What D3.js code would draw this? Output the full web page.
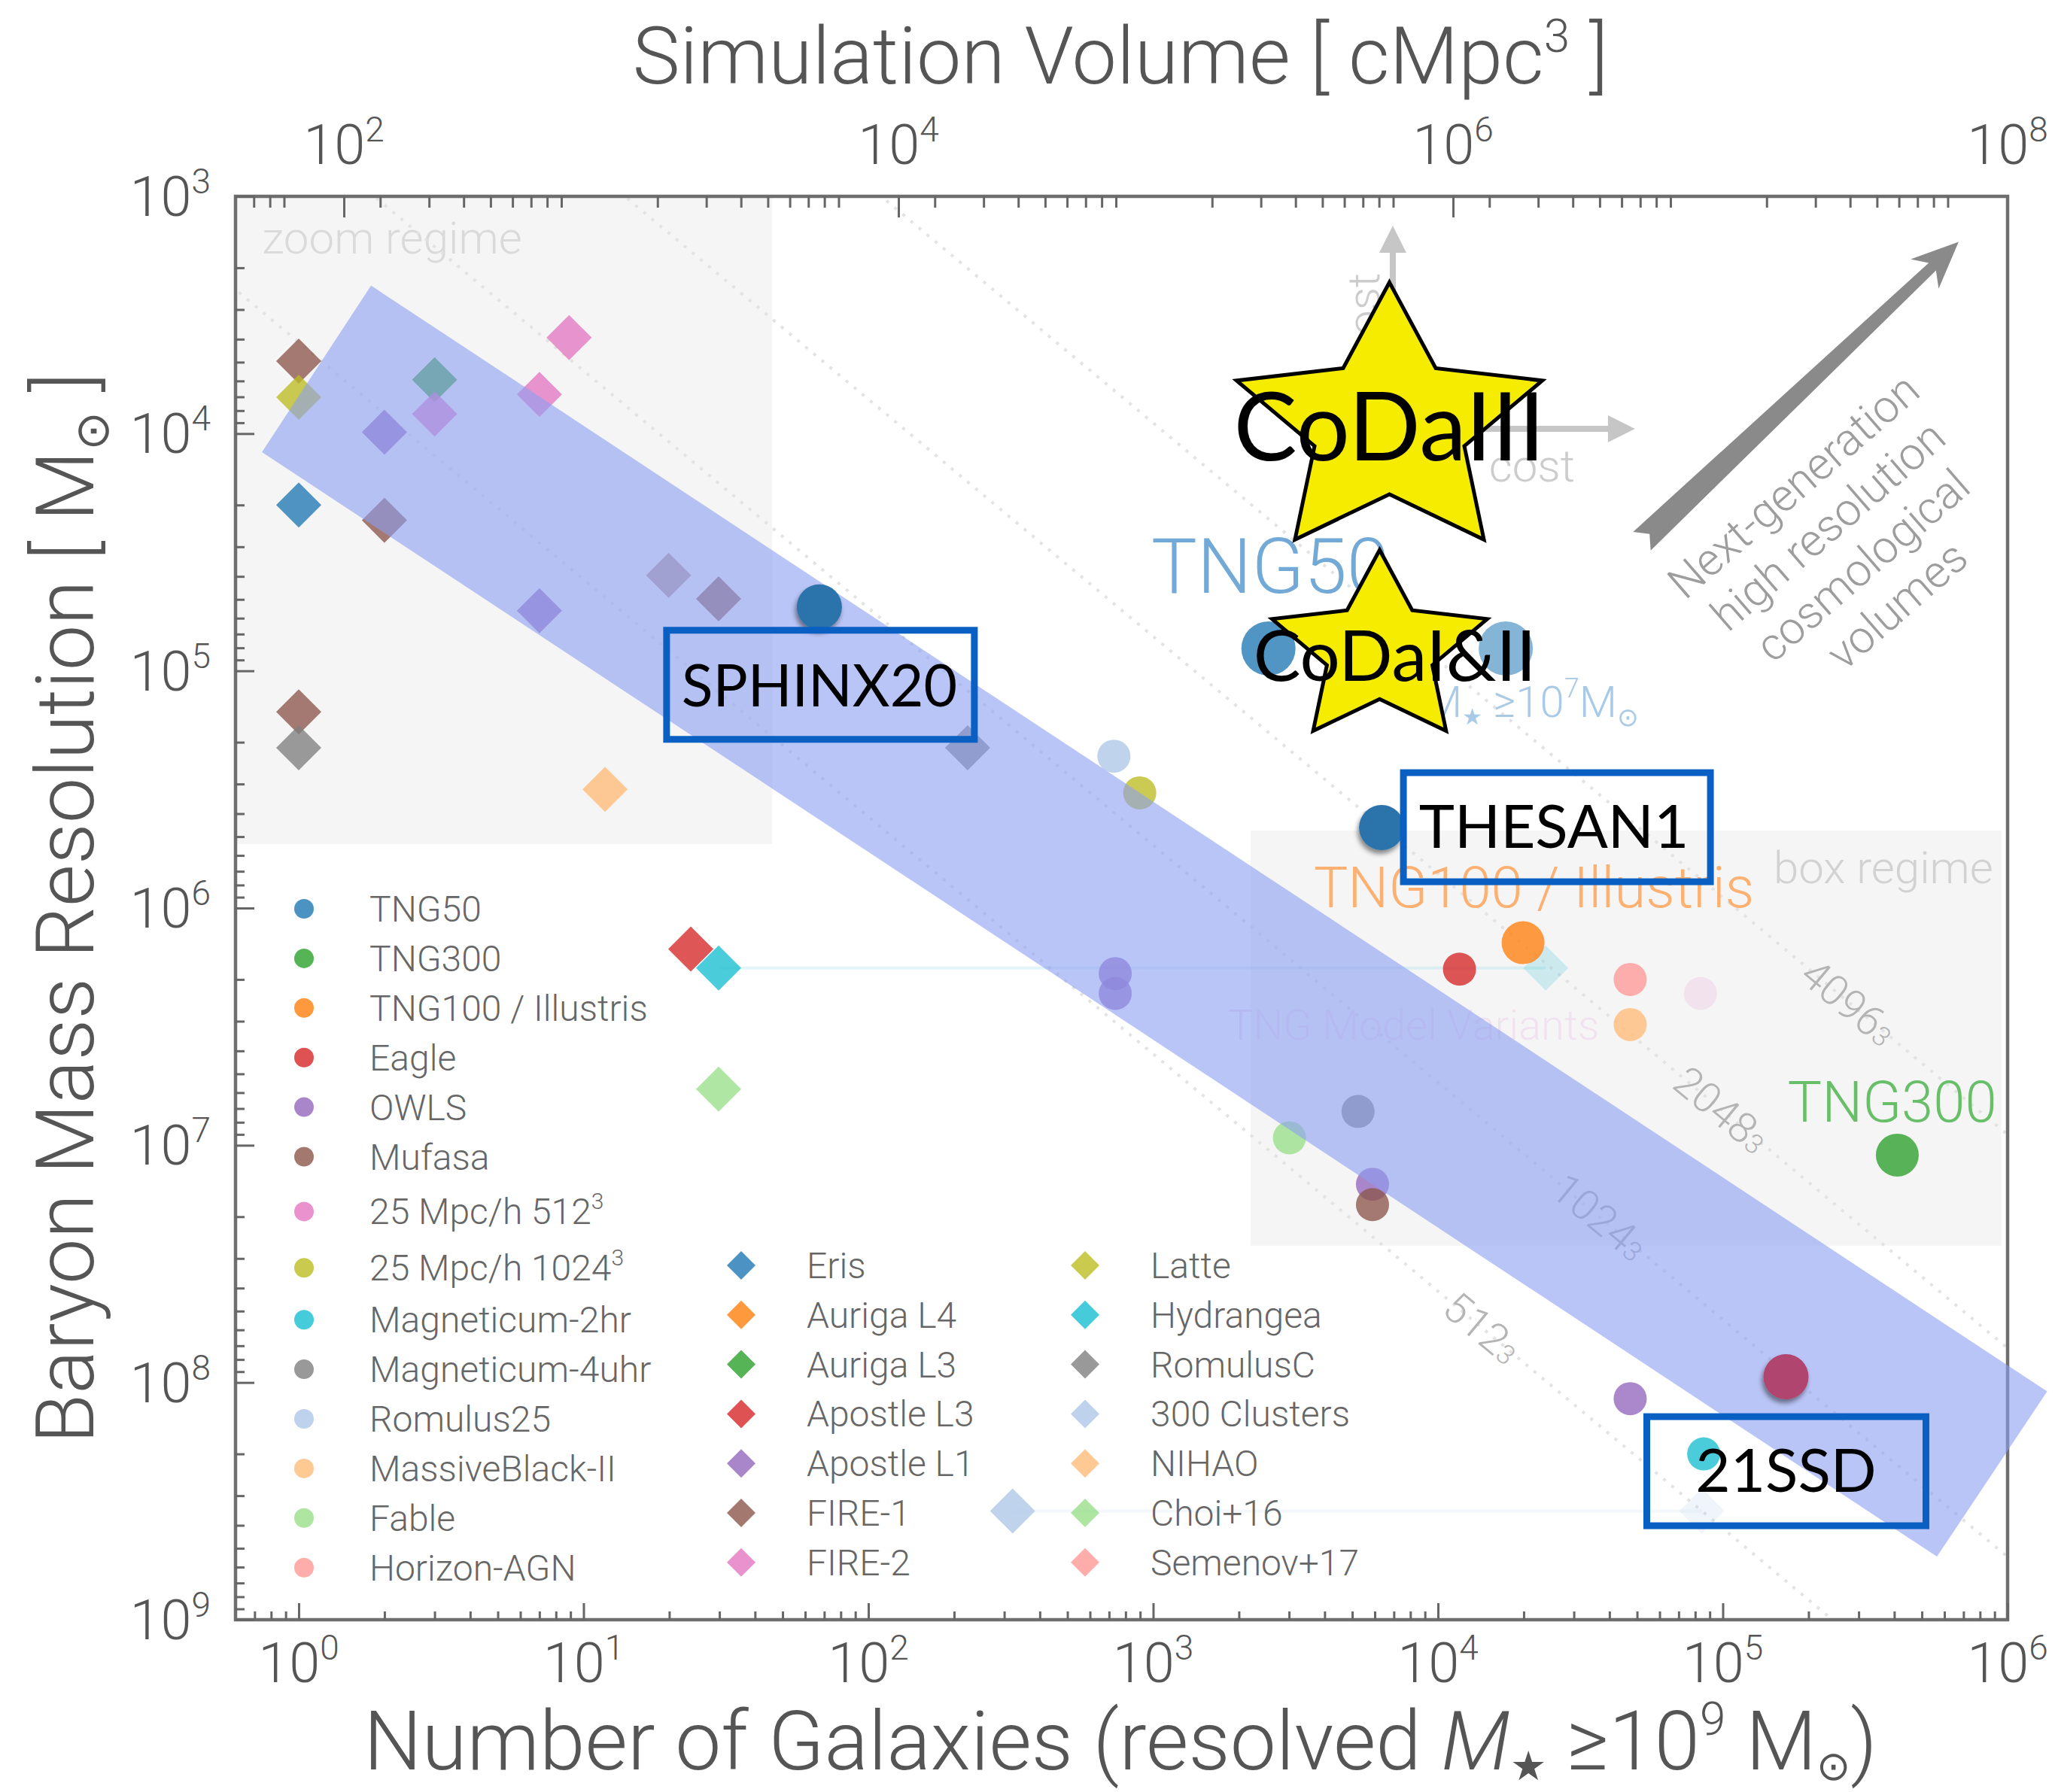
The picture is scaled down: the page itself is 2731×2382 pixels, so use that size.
<!DOCTYPE html>
<html>
<head>
<meta charset="utf-8">
<title>Simulation volume vs resolution</title>
<style>
  body { margin: 0; background: #fff; }
  svg { display: block; }
  text { font-family: "Roboto Light", Roboto, "DejaVu Sans", sans-serif; font-weight: 300; }
  .tag { font-family: Lato, "DejaVu Sans", sans-serif; font-weight: 400; fill: #000; }
</style>
<script src="https://cdn.jsdelivr.net/npm/d3@7"></script>
</head>
<body>
<script>

// legend series (circles = box simulations, diamonds = zooms)
var circleSeries = ["TNG50", "TNG300", "TNG100 / Illustris", "Eagle", "OWLS", "Mufasa", "25 Mpc/h 512³",
    "25 Mpc/h 1024³", "Magneticum-2hr", "Magneticum-4uhr", "Romulus25", "MassiveBlack-II", "Fable", "Horizon-AGN"];
var circleColors = ["#1f77b4", "#2ca02c", "#ff7f0e", "#d62728", "#9467bd", "#8c564b", "#e377c2",
    "#bcbd22", "#17becf", "#7f7f7f", "#aec7e8", "#ffbb78", "#98df8a", "#ff9896"];
var diamondSeries = ["Eris", "Auriga L4", "Auriga L3", "Apostle L3", "Apostle L1", "FIRE-1", "FIRE-2",
    "Latte", "Hydrangea", "RomulusC", "300 Clusters", "NIHAO", "Choi+16", "Semenov+17"];
var diamondColors = ["#1f77b4", "#ff7f0e", "#2ca02c", "#d62728", "#9467bd", "#8c564b", "#e377c2",
    "#bcbd22", "#17becf", "#7f7f7f", "#aec7e8", "#ffbb78", "#98df8a", "#ff9896"];

// [simulation, number of galaxies, baryon mass resolution]
var circlePoints = [
    ["TNG50", 2540, 8.05e4],
    ["TNG100 / Illustris", 19900, 1.40e6],
    ["Eagle", 11900, 1.81e6],
    ["Horizon-AGN", 47300, 2.0e6],
    ["MassiveBlack-II", 47300, 3.1e6],
    ["OWLS", 736, 1.89e6],
    ["OWLS", 736, 2.29e6],
    ["Magneticum-4uhr", 5240, 7.2e6],
    ["Fable", 3010, 9.3e6],
    ["OWLS", 5890, 1.46e7],
    ["Mufasa", 5890, 1.78e7],
    ["TNG300", 410000, 1.10e7],
    ["OWLS", 47300, 1.17e8],
    ["Magneticum-2hr", 85700, 2.0e8],
    ["Romulus25", 728, 2.29e5],
    ["25 Mpc/h 1024³", 897, 3.27e5]
];
var diamondPoints = [
    ["FIRE-1", 1, 4.95e3],
    ["Latte", 1, 7.03e3],
    ["Auriga L3", 3, 5.93e3],
    ["FIRE-2", 8.9, 3.94e3],
    ["FIRE-2", 7, 6.84e3],
    ["FIRE-2", 3, 8.26e3],
    ["Apostle L1", 2, 9.86e3],
    ["Eris", 1, 2.0e4],
    ["FIRE-1", 2, 2.32e4],
    ["Apostle L1", 7, 5.58e4],
    ["FIRE-1", 29.8, 4.97e4],
    ["FIRE-1", 1, 1.49e5],
    ["RomulusC", 1, 2.11e5],
    ["NIHAO", 11.9, 3.16e5],
    ["RomulusC", 223, 2.11e5],
    ["Apostle L3", 23.8, 1.49e6],
    ["Hydrangea", 29.8, 1.79e6],
    ["Choi+16", 29.8, 5.8e6],
    ["300 Clusters", 321, 3.48e8]
];
var secondaryCircles = [["TNG50", 17300, 8.05e4]];
var secondaryDiamonds = [["FIRE-1", 19.9, 3.96e4]];
var faintCircles = [["25 Mpc/h 512³", 83500, 2.29e6]];
var faintDiamonds = [["Hydrangea", 23900, 1.79e6], ["300 Clusters", 84400, 3.48e8]];
var faintLinks = [["Hydrangea", 29.8, 23900, 1.79e6], ["300 Clusters", 321, 84400, 3.48e8]];

// highlighted simulations
var newSims = [["SPHINX20", 67.3, 5.38e4], ["THESAN1", 6340, 4.58e5], ["21SSD", 166700, 9.46e7]];
var codaSims = [["CoDaIII", 6755, 9160], ["CoDaI&II", 6240, 8.17e4]];

// lines of constant particle number: log M - log N
var gridLabels = ["512", "1024", "2048", "4096"];
var gridOffsets = [3.615, 2.735, 1.855, 0.955];
var gridLabelN = [14300, 37000, 99000, 277000];

// regimes [N0, N1, M0, M1]
var zoomRegime = [0.6, 46, 1e3, 5.37e5];
var boxRegime = [2200, 9.5e5, 4.72e5, 2.65e7];

// band corners [N, M]
var bandCorners = [[0.743, 11970], [1.795, 2377], [1.377e6, 1.091e8], [5.649e5, 5.42e8]];

// tick labels
var bottomTicks = [1, 10, 100, 1e3, 1e4, 1e5, 1e6];
var leftTicks = [1e3, 1e4, 1e5, 1e6, 1e7, 1e8, 1e9];
var topTicks = [1e2, 1e4, 1e6, 1e8];

var W = 2731, H = 2382;
var L = 313, R = 2668, T = 261, B = 2153;

var x = d3.scaleLog().domain([0.6, 1e6]).range([L, R]);
var y = d3.scaleLog().domain([1e3, 1e9]).range([T, B]);
var xTop = d3.scaleLog().domain([Math.pow(10, 8 - (R - L) / 368.5), 1e8]).range([L, R]);

var colorOf = {};
circleSeries.forEach(function (s, i) { colorOf["c" + s] = circleColors[i]; });
diamondSeries.forEach(function (s, i) { colorOf["d" + s] = diamondColors[i]; });

var svg = d3.select("body").append("svg").attr("width", W).attr("height", H);
var defs = svg.append("defs");
defs.append("clipPath").attr("id", "plot").append("rect")
    .attr("x", L).attr("y", T).attr("width", R - L).attr("height", B - T);
defs.append("filter").attr("id", "shadow").attr("x", "-50%").attr("y", "-50%")
    .attr("width", "200%").attr("height", "200%")
    .append("feDropShadow").attr("dx", -2).attr("dy", 5).attr("stdDeviation", 3)
    .attr("flood-color", "#000").attr("flood-opacity", 0.45);

function diamond(h) { return "M0," + (-h) + "L" + h + ",0L0," + h + "L" + (-h) + ",0Z"; }

function addSup(sel, base, sup, supSize, dy) {
    sel.append("tspan").text(base);
    sel.append("tspan").attr("font-size", supSize).attr("dy", dy).text(sup);
}

// regimes
[zoomRegime, boxRegime].forEach(function (r) {
    svg.append("rect")
        .attr("x", x(r[0])).attr("y", y(r[2]))
        .attr("width", x(r[1]) - x(r[0])).attr("height", y(r[3]) - y(r[2]))
        .attr("fill", "#f5f5f5");
});
svg.append("text").attr("x", x(0.743)).attr("y", y(1742)).attr("font-size", 60)
    .attr("fill", "#dadada").text("zoom regime");
svg.append("text").attr("x", x(8.9e5)).attr("y", y(7.84e5)).attr("font-size", 60)
    .attr("text-anchor", "end").attr("fill", "#d2d2d2").text("box regime");
svg.append("text").attr("x", x(1832)).attr("y", y(3.59e6)).attr("font-size", 56)
    .attr("fill", "#f1e2ef").text("TNG Model Variants");

// constant resolution lines
var grid = svg.append("g").attr("clip-path", "url(#plot)");
var angle = Math.atan2(y(1e6) - y(1e5), x(1e3) - x(1e2)) * 180 / Math.PI;
gridOffsets.forEach(function (c, i) {
    var n0 = 0.3, n1 = 3e6;
    grid.append("line")
        .attr("x1", x(n0)).attr("y1", y(n0 * Math.pow(10, c)))
        .attr("x2", x(n1)).attr("y2", y(n1 * Math.pow(10, c)))
        .attr("stroke", "#e3e3e3").attr("stroke-width", 4).attr("stroke-dasharray", "4,10");
    var nl = gridLabelN[i];
    var t = svg.append("text")
        .attr("transform", "translate(" + x(nl) + "," + y(nl * Math.pow(10, c)) + ") rotate(" + angle + ")")
        .attr("text-anchor", "middle").attr("dy", "0.35em")
        .attr("font-size", 56).attr("fill", "#b4b4b4");
    addSup(t, gridLabels[i], "3", 36, 0);
});

// cost arrows
function arrow(p0, p1, w, hl, hw, col) {
    var dx = p1[0] - p0[0], dy = p1[1] - p0[1];
    var len = Math.hypot(dx, dy), a = Math.atan2(dy, dx) * 180 / Math.PI;
    var g = svg.append("g").attr("transform", "translate(" + p0[0] + "," + p0[1] + ") rotate(" + a + ")");
    g.append("rect").attr("x", 0).attr("y", -w / 2).attr("width", len - hl + 2).attr("height", w).attr("fill", col);
    g.append("polygon").attr("points", [[len, 0], [len - hl, hw], [len - hl, -hw]].map(function (p) { return p.join(","); }).join(" "))
        .attr("fill", col);
}
var costOrigin = [x(6940), y(9550)];
arrow(costOrigin, [x(6940), y(1330)], 8, 36, 18, "#c6c6c6");
arrow(costOrigin, [x(49200), y(9550)], 8, 36, 18, "#c6c6c6");
svg.append("text").attr("x", x(15100)).attr("y", y(1.59e4)).attr("font-size", 60)
    .attr("fill", "#cccccc").text("cost");
svg.append("text").attr("transform", "translate(" + x(6220) + "," + y(2100) + ") rotate(-90)")
    .attr("text-anchor", "end").attr("font-size", 60).attr("fill", "#cccccc").text("cost");

// series labels
svg.append("text").attr("x", x(985)).attr("y", y(4.69e4)).attr("font-size", 102)
    .attr("fill", "#73a9d6").text("TNG50");
svg.append("text").attr("x", x(3664)).attr("y", y(9.93e5)).attr("font-size", 76)
    .attr("fill", "#fcb071").text("TNG100 / Illustris");
svg.append("text").attr("x", x(1.69e5)).attr("y", y(7.96e6)).attr("font-size", 76)
    .attr("fill", "#69bf69").text("TNG300");
var mlab = svg.append("text").attr("x", x(8960)).attr("y", y(1.57e5)).attr("font-size", 58)
    .attr("fill", "#a8cae6");
mlab.append("tspan").text("M");
mlab.append("tspan").attr("font-size", 30).attr("dy", 10).text("★");
mlab.append("tspan").attr("dy", -10).text(" ≥10");
mlab.append("tspan").attr("font-size", 36).attr("dy", -26).text("7");
mlab.append("tspan").attr("dy", 26).text("M");
mlab.append("tspan").attr("font-size", 34).attr("dy", 12).text("⊙");

// faint links and points
faintLinks.forEach(function (l) {
    svg.append("line").attr("x1", x(l[1])).attr("x2", x(l[2])).attr("y1", y(l[3])).attr("y2", y(l[3]))
        .attr("stroke", colorOf["d" + l[0]]).attr("stroke-width", 4).attr("opacity", 0.12);
});

var pts = svg.append("g");
function drawCircles(data, op) {
    pts.selectAll(null).data(data).enter().append("circle")
        .attr("cx", function (d) { return x(d[1]); })
        .attr("cy", function (d) { return y(d[2]); })
        .attr("r", function (d) { return d[0] === "TNG50" ? 36 : (d[0] === "TNG300" || d[0] === "TNG100 / Illustris") ? 28.5 : 22; })
        .attr("fill", function (d) { return colorOf["c" + d[0]]; })
        .attr("opacity", op);
}
function drawDiamonds(data, op) {
    pts.selectAll(null).data(data).enter().append("path")
        .attr("d", diamond(30))
        .attr("transform", function (d) { return "translate(" + x(d[1]) + "," + y(d[2]) + ")"; })
        .attr("fill", function (d) { return colorOf["d" + d[0]]; })
        .attr("opacity", op);
}
drawCircles(faintCircles, 0.15);
drawDiamonds(faintDiamonds, 0.18);
drawDiamonds(secondaryDiamonds, 0.5);
drawDiamonds(diamondPoints, 0.78);
drawCircles(secondaryCircles, 0.55);
drawCircles(circlePoints, 0.78);

// legend
var leg = svg.append("g");
circleSeries.forEach(function (s, i) {
    var yy = 1208 + i * 65.9 + (i >= 6 ? 7 : 0) + (i >= 7 ? 9 : 0) + (i >= 8 ? 3 : 0);
    leg.append("circle").attr("cx", 404).attr("cy", yy).attr("r", 13)
        .attr("fill", circleColors[i]).attr("opacity", 0.8);
    var t = leg.append("text").attr("x", 491).attr("y", yy + 17).attr("font-size", 48).attr("fill", "#666");
    if (s.slice(-1) === "³") addSup(t, s.slice(0, -1), "3", 30, -20); else t.text(s);
});
diamondSeries.forEach(function (s, i) {
    var col = Math.floor(i / 7), row = i % 7;
    var yy = 1682 + row * 65.8;
    var mx = col === 0 ? 985 : 1442;
    leg.append("path").attr("d", diamond(19)).attr("transform", "translate(" + mx + "," + yy + ")")
        .attr("fill", diamondColors[i]).attr("opacity", 0.8);
    leg.append("text").attr("x", mx + 87).attr("y", yy + 17).attr("font-size", 48).attr("fill", "#666").text(s);
});

// frame and axes
svg.append("rect").attr("x", L).attr("y", T).attr("width", R - L).attr("height", B - T)
    .attr("fill", "none").attr("stroke", "#6e6e6e").attr("stroke-width", 4.5);

var bottomMinor = [], leftMinor = [], topMinor = [];
for (var e = -1; e < 6; e++) for (var k = 2; k < 10; k++) {
    var v = k * Math.pow(10, e);
    if (v > 0.61 && v < 1e6) bottomMinor.push(v);
}
for (var e2 = 3; e2 < 9; e2++) for (var k2 = 2; k2 < 10; k2++) leftMinor.push(k2 * Math.pow(10, e2));
for (var e3 = 1; e3 < 8; e3++) for (var k3 = 2; k3 < 10; k3++) {
    var v3 = k3 * 0.676 * Math.pow(10, e3);
    if (v3 > xTop.domain()[0] && v3 < 1e8) topMinor.push(v3);
}

function tickAxis(axis, tr, vals, size) {
    var g = svg.append("g").attr("transform", tr)
        .call(axis.tickValues(vals).tickSize(size).tickFormat(""));
    g.select(".domain").remove();
    g.selectAll("line").attr("stroke", "#666").attr("stroke-width", 3);
}
tickAxis(d3.axisBottom(x), "translate(0," + B + ")", bottomTicks, -22);
tickAxis(d3.axisBottom(x), "translate(0," + B + ")", bottomMinor, -11);
tickAxis(d3.axisLeft(y), "translate(" + L + ",0)", leftTicks, -25);
tickAxis(d3.axisLeft(y), "translate(" + L + ",0)", leftMinor, -12);
tickAxis(d3.axisTop(xTop), "translate(0," + T + ")", topTicks.slice(0, 3), -28);
tickAxis(d3.axisTop(xTop), "translate(0," + T + ")", topMinor, -15);

var lab = svg.append("g").attr("fill", "#555").attr("font-size", 74);
bottomTicks.forEach(function (v) {
    var t = lab.append("text").attr("x", x(v)).attr("y", 2236).attr("text-anchor", "middle");
    addSup(t, "10", String(Math.round(Math.log10(v))), 46, -30);
});
leftTicks.forEach(function (v) {
    var t = lab.append("text").attr("x", 280).attr("y", y(v) + 26).attr("text-anchor", "end");
    addSup(t, "10", String(Math.round(Math.log10(v))), 46, -30);
});
topTicks.forEach(function (v) {
    var t = lab.append("text").attr("x", xTop(v)).attr("y", 218).attr("text-anchor", "middle");
    addSup(t, "10", String(Math.round(Math.log10(v))), 46, -30);
});

// axis titles
var tt = svg.append("text").attr("x", 1489).attr("y", 111).attr("text-anchor", "middle")
    .attr("font-size", 106).attr("fill", "#555");
tt.append("tspan").text("Simulation Volume [ cMpc");
tt.append("tspan").attr("font-size", 62).attr("dy", -42).text("3");
tt.append("tspan").attr("dy", 42).text(" ]");

var bt = svg.append("text").attr("x", 1489).attr("y", 2352).attr("text-anchor", "middle")
    .attr("font-size", 109).attr("fill", "#555");
bt.append("tspan").text("Number of Galaxies (resolved ");
bt.append("tspan").attr("font-style", "italic").text("M");
bt.append("tspan").attr("font-size", 54).attr("dy", 14).text("★");
bt.append("tspan").attr("dy", -14).text(" ≥10");
bt.append("tspan").attr("font-size", 62).attr("dy", -46).text("9");
bt.append("tspan").attr("dy", 46).text(" M");
bt.append("tspan").attr("font-size", 54).attr("dy", 14).text("⊙");
bt.append("tspan").attr("dy", -14).text(")");

var lt = svg.append("text").attr("transform", "translate(124,1207) rotate(-90)")
    .attr("text-anchor", "middle").attr("font-size", 108).attr("fill", "#555");
lt.append("tspan").text("Baryon Mass Resolution [ M");
lt.append("tspan").attr("font-size", 62).attr("dy", 20).text("⊙");
lt.append("tspan").attr("dy", -20).text(" ]");

// band of next generation simulations
svg.append("polygon")
    .attr("points", bandCorners.map(function (c) { return x(c[0]) + "," + y(c[1]); }).join(" "))
    .attr("fill", "#8c9ef2").attr("opacity", 0.6);

// next generation arrow
(function () {
    var p0 = [x(5.2e4), y(2.84e4)], p1 = [x(6.73e5), y(1556)];
    var len = Math.hypot(p1[0] - p0[0], p1[1] - p0[1]);
    var a = Math.atan2(p1[1] - p0[1], p1[0] - p0[0]) * 180 / Math.PI;
    var shape = [[len, 0], [len - 62, 27], [len - 48, 7], [0, 17], [14, 0], [0, -17], [len - 48, -7], [len - 62, -27]];
    svg.append("polygon").attr("points", shape.map(function (p) { return p.join(","); }).join(" "))
        .attr("transform", "translate(" + p0[0] + "," + p0[1] + ") rotate(" + a + ")")
        .attr("fill", "#8a8a8a");
    var lines = ["Next-generation", "high resolution", "cosmological", "volumes"];
    var g = svg.append("g").attr("transform", "translate(" + x(2.69e5) + "," + y(2.96e4) + ") rotate(-41)");
    lines.forEach(function (s, i) {
        g.append("text").attr("y", (i - 1.5) * 70).attr("dy", "0.35em").attr("text-anchor", "middle")
            .attr("font-size", 60).attr("fill", "#9d9d9d").text(s);
    });
})();

// highlighted simulations
var tagStyle = {
    "SPHINX20": { x0: -203, x1: 206, y0: 31, y1: 176, tx: 0, ty: 132, fs: 77, col: "#2b73ab" },
    "THESAN1": { x0: 29, x1: 437, y0: -73, y1: 72, tx: 229, ty: 27, fs: 80, col: "#2b73ab" },
    "21SSD": { x0: -185, x1: 186, y0: 53, y1: 198, tx: 0, ty: 153, fs: 80, col: "#b0446f" }
};
newSims.forEach(function (d) {
    var s = tagStyle[d[0]], cx = x(d[1]), cy = y(d[2]);
    svg.append("circle").attr("cx", cx).attr("cy", cy).attr("r", 30)
        .attr("fill", s.col).attr("filter", "url(#shadow)");
    svg.append("rect").attr("x", cx + s.x0).attr("y", cy + s.y0)
        .attr("width", s.x1 - s.x0).attr("height", s.y1 - s.y0)
        .attr("fill", "none").attr("stroke", "#0a5fc2").attr("stroke-width", 9);
    svg.append("text").attr("class", "tag").attr("x", cx + s.tx).attr("y", cy + s.ty)
        .attr("text-anchor", "middle").attr("font-size", s.fs).text(d[0]);
});

function starPath(Rr, sx) {
    var p = [];
    for (var i = 0; i < 10; i++) {
        var a = -Math.PI / 2 + i * Math.PI / 5, rr = i % 2 === 0 ? Rr : Rr * 0.49;
        p.push([Math.cos(a) * rr * sx, Math.sin(a) * rr]);
    }
    return "M" + p.map(function (q) { return q.join(","); }).join("L") + "Z";
}
var starStyle = {
    "CoDaIII": { R: 189, fs: 126, tx: 0, ty: 48 },
    "CoDaI&II": { R: 133, fs: 94, tx: 20, ty: 41 }
};
codaSims.forEach(function (d) {
    var s = starStyle[d[0]], cx = x(d[1]), cy = y(d[2]);
    svg.append("path").attr("d", starPath(s.R, 1.13))
        .attr("transform", "translate(" + cx + "," + cy + ")")
        .attr("fill", "#f5ec00").attr("stroke", "#000").attr("stroke-width", 5).attr("stroke-linejoin", "miter");
    svg.append("text").attr("class", "tag").attr("x", cx + s.tx).attr("y", cy + s.ty)
        .attr("text-anchor", "middle").attr("font-size", s.fs).text(d[0]);
});

</script>
</body>
</html>
